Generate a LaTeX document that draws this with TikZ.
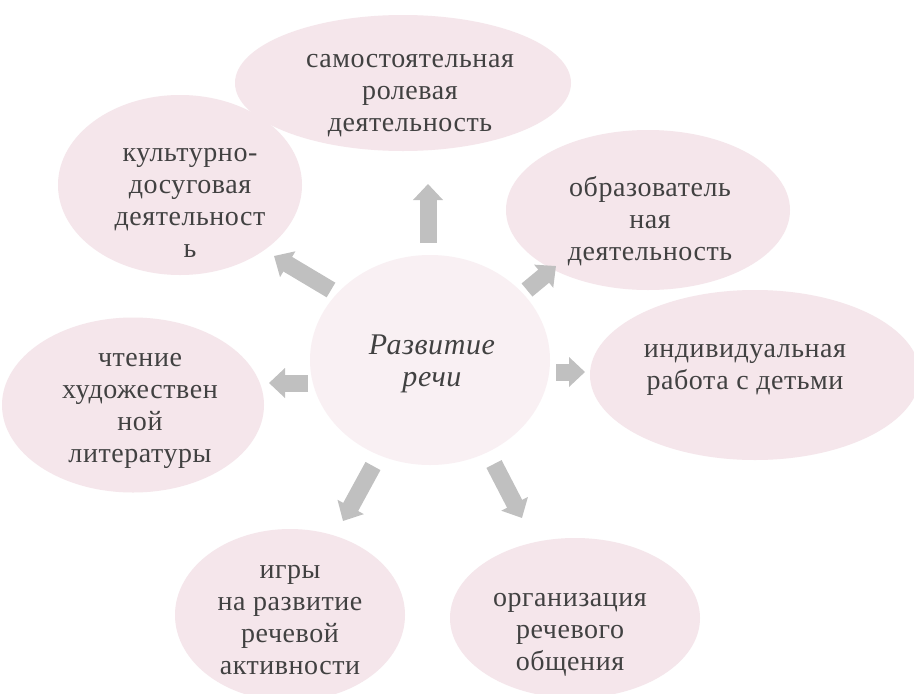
\documentclass[tikz,border=0pt]{standalone}
\usepackage{fontspec}
\setmainfont{Liberation Serif}[LetterSpace=2]
\usetikzlibrary{arrows.meta,shapes.geometric}
\definecolor{pinkfill}{RGB}{245,230,235}
\definecolor{pinklight}{RGB}{249,240,243}
\definecolor{arrowgray}{RGB}{192,192,192}
\definecolor{txt}{RGB}{65,65,65}
\begin{document}
\begin{tikzpicture}[x=1pt,y=-1pt,
  bubble/.style={ellipse,fill=pinkfill,draw=none,inner sep=0pt},
  label/.style={align=center,text=txt,font=\fontsize{28}{32}\selectfont,inner sep=0pt},
  blk/.style={draw=arrowgray,line width=17pt,-{Triangle[width=29pt,length=16pt]}}]
\useasboundingbox (0,0) rectangle (914,694);
\fill[white] (0,0) rectangle (914,694);
% ellipses
\node[bubble,minimum width=336pt,minimum height=136pt] (A) at (403,83) {};
\node[bubble,minimum width=244pt,minimum height=180pt] (B) at (180,185) {};
\node[bubble,minimum width=284pt,minimum height=160pt] (C) at (648,210) {};
\node[bubble,minimum width=330pt,minimum height=170pt] (D) at (755,375) {};
\node[bubble,fill=pinklight,minimum width=240pt,minimum height=210pt] (E) at (430,360) {};
\node[bubble,minimum width=262pt,minimum height=175pt] (F) at (133,405) {};
\node[bubble,minimum width=230pt,minimum height=172pt] (G) at (290,615) {};
\node[bubble,minimum width=250pt,minimum height=160pt] (H) at (575,618) {};
% texts
\node[label] (At) at (410,96) {самостоятельная\\ролевая\\деятельность};
\node[label] (Bt) at (190,203) {культурно-\\досуговая\\деятельност\\ь};
\node[label] (Ct) at (650,221) {образователь\\ная\\деятельность};
\node[label] (Dt) at (745,370) {индивидуальная\\работа с детьми};
\node[label,font=\itshape\fontsize{30}{32}\selectfont] (Et) at (432,364) {Развитие\\речи};
\node[label] (Ft) at (140,411) {чтение\\художествен\\ной\\литературы};
\node[label] (Gt) at (290,620) {игры\\на развитие\\речевой\\активности};
\node[label] (Ht) at (570,635) {организация\\речевого\\общения};
% arrows
\coordinate (u1) at (428,243); \coordinate (u2) at (428,184);
\coordinate (ul1) at (331,290); \coordinate (ul2) at (274,256);
\coordinate (ur1) at (527,290); \coordinate (ur2) at (556,266);
\coordinate (l1) at (308,383); \coordinate (l2) at (269,383);
\coordinate (r1) at (556,372); \coordinate (r2) at (585,372);
\coordinate (bl1) at (373,466); \coordinate (bl2) at (343,521);
\coordinate (br1) at (494,464); \coordinate (br2) at (522,518);
\draw[blk] (u1) -- (u2);
\draw[blk] (ul1) -- (ul2);
\draw[blk] (ur1) -- (ur2);
\draw[blk] (l1) -- (l2);
\draw[blk] (r1) -- (r2);
\draw[blk] (bl1) -- (bl2);
\draw[blk] (br1) -- (br2);
\end{tikzpicture}
\end{document}
